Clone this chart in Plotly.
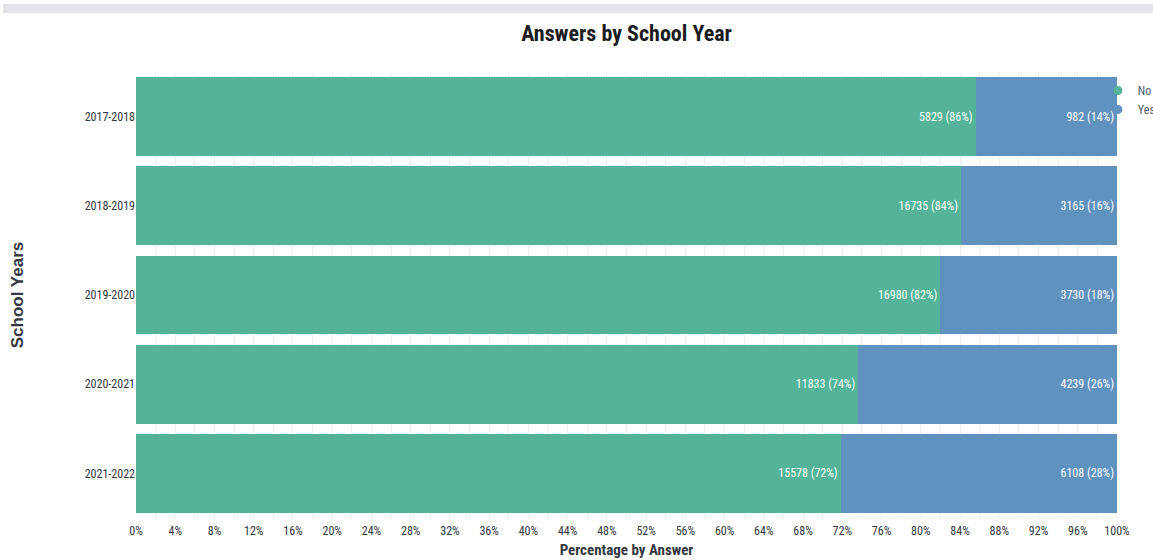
import plotly.graph_objects as go

years = ["2017-2018", "2018-2019", "2019-2020", "2020-2021", "2021-2022"]
no_counts = [5829, 16735, 16980, 11833, 15578]
yes_counts = [982, 3165, 3730, 4239, 6108]

GREEN = "#54B399"
BLUE = "#6092C0"
NARROW = "Liberation Sans Narrow, Arial Narrow, Roboto Condensed, sans-serif"

totals = [a + b for a, b in zip(no_counts, yes_counts)]
no_pct = [100 * a / t for a, t in zip(no_counts, totals)]
yes_pct = [100 * b / t for b, t in zip(yes_counts, totals)]
no_text = [f"{a} ({round(p)}%)" for a, p in zip(no_counts, no_pct)]
yes_text = [f"{b} ({round(p)}%)" for b, p in zip(yes_counts, yes_pct)]

fig = go.Figure()
for name, vals, txt, col in [("No", no_pct, no_text, GREEN), ("Yes", yes_pct, yes_text, BLUE)]:
    fig.add_trace(go.Bar(
        y=years, x=vals, orientation="h", name=name, marker=dict(color=col, line=dict(width=0)),
        text=txt, textposition="inside", insidetextanchor="end",
        textfont=dict(color="white", size=12, family=NARROW),
        showlegend=False, hoverinfo="skip",
    ))
    fig.add_trace(go.Scatter(
        x=[None], y=[None], mode="markers", name=name,
        marker=dict(color=col, size=9, symbol="circle"), showlegend=True,
    ))

fig.update_layout(
    width=1153, height=560,
    barmode="stack", bargap=0.115,
    plot_bgcolor="white", paper_bgcolor="white",
    margin=dict(l=136, r=36, t=72, b=42, autoexpand=False),
    title=dict(text="<b>Answers by School Year</b>", x=0.5, xref="paper", xanchor="center",
               y=0.94, yanchor="middle",
               font=dict(family=NARROW, size=22, color="#1a1c21")),
    legend=dict(x=0.9805, xanchor="left", y=0.991, yanchor="top", traceorder="normal",
                font=dict(family=NARROW, size=12, color="#535966"),
                itemwidth=30, tracegroupgap=0, bgcolor="rgba(0,0,0,0)"),
    xaxis=dict(range=[0, 100], dtick=4, ticksuffix="%", showgrid=True, gridcolor="#eeeeee",
               minor=dict(dtick=2, showgrid=True, gridcolor="#eeeeee"),
               zeroline=False, showline=False, ticks="", ticklabelstandoff=4,
               tickfont=dict(family=NARROW, size=12, color="#343741"),
               title=dict(text="<b>Percentage by Answer</b>", standoff=7,
                          font=dict(family=NARROW, size=15, color="#343741"))),
    yaxis=dict(autorange="reversed", showgrid=False, zeroline=False, ticks="",
               tickfont=dict(family=NARROW, size=12, color="#343741"),
               title=dict(text="<b>School Years</b>", standoff=56,
                          font=dict(family="Liberation Sans, Arial, sans-serif", size=17, color="#343741"))),
    shapes=[dict(type="rect", xref="paper", yref="paper",
                 x0=(3 - 136) / 981, x1=1.04, y0=1 + (72 - 13) / 446, y1=1 + (72 - 4) / 446,
                 fillcolor="#e3e4e8", line=dict(width=0), layer="above")],
)

fig.write_html("out.html", config={"displayModeBar": False},
               post_script="document.body.style.margin='0';")
